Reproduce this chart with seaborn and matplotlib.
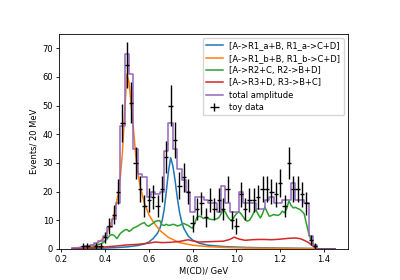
import numpy as np
import matplotlib
matplotlib.use("Agg")
import matplotlib.pyplot as plt
import seaborn as sns

# binning of the toy data: 60 bins of 20 MeV starting at 0.25 GeV
bin_lo = 0.25
bin_width = 0.02

toy_counts = [0, 0, 1, 1, 0, 1, 1, 4, 8, 12,
              20, 44, 64, 51, 30, 21, 15, 17, 18, 15,
              21, 32, 50, 38, 22, 25, 20, 9, 14, 16,
              11, 17, 14, 17, 14, 21, 10, 8, 19, 14,
              17, 17, 18, 21, 21, 20, 19, 23, 15, 30,
              21, 21, 19, 16, 3, 1, 0, 0, 0, 0]

total_amp = [0.2, 0.4, 0.8, 1.1, 1.5, 2.0, 2.8, 4.5, 7.5, 10.5,
             16, 43, 68, 61, 35, 26, 25, 18, 20, 19,
             20, 34, 44, 35, 28, 24, 20, 13, 18, 18,
             17, 16, 16, 13, 22, 16, 13, 13, 20, 16,
             16, 16, 14, 14, 17, 18, 16, 16, 17, 17,
             23, 17, 17, 16, 4.4, 1.2, 0, 0, 0, 0]

r1a_x = [0.25, 0.35, 0.40, 0.45, 0.50, 0.55, 0.58, 0.60, 0.62, 0.64, 0.65, 0.66,
         0.67, 0.68, 0.69, 0.70, 0.71, 0.72, 0.73, 0.74, 0.75, 0.76, 0.78, 0.80,
         0.83, 0.87, 0.95, 1.05, 1.20, 1.36, 1.37, 1.45]
r1a_y = [0.1, 0.2, 0.3, 0.45, 0.7, 1.2, 1.7, 2.4, 3.6, 5.5, 7.0, 9.5,
         13.5, 20, 27, 31.8, 29, 24, 18, 13, 9.5, 7.2, 4.5, 3.1,
         2.0, 1.3, 0.8, 0.5, 0.3, 0.15, 0, 0]

r1b_x = [0.25, 0.28, 0.30, 0.33, 0.36, 0.38, 0.40, 0.42, 0.44, 0.46, 0.47, 0.48,
         0.49, 0.50, 0.51, 0.52, 0.53, 0.54, 0.55, 0.56, 0.58, 0.60, 0.62, 0.65,
         0.69, 0.74, 0.80, 0.87, 0.95, 1.05, 1.20, 1.35, 1.37, 1.45]
r1b_y = [0.2, 0.5, 0.7, 1.0, 1.9, 2.8, 4.5, 7.5, 11.5, 19, 25, 34,
         48, 61, 58, 50, 42, 33, 27, 22, 16, 12, 9.5, 6.5,
         4, 2.2, 1.3, 0.8, 0.5, 0.3, 0.2, 0.1, 0, 0]

r2_x = [0.25, 0.30, 0.33, 0.35, 0.37, 0.39, 0.41, 0.42, 0.43, 0.44, 0.455, 0.47,
        0.48, 0.49, 0.50, 0.51, 0.52, 0.53, 0.54, 0.55, 0.56, 0.57, 0.58, 0.59,
        0.60, 0.61, 0.62, 0.63, 0.64, 0.65, 0.66, 0.67, 0.68, 0.69, 0.70, 0.71,
        0.72, 0.73, 0.74, 0.75, 0.76, 0.77, 0.78, 0.79, 0.80, 0.81, 0.82, 0.83,
        0.84, 0.85, 0.86, 0.87, 0.88, 0.89, 0.90, 0.91, 0.92, 0.93, 0.94, 0.95,
        0.96, 0.97, 0.98, 0.99, 1.00, 1.01, 1.02, 1.03, 1.04, 1.05, 1.06, 1.07,
        1.08, 1.09, 1.10, 1.11, 1.12, 1.13, 1.14, 1.15, 1.16, 1.17, 1.18, 1.19,
        1.20, 1.21, 1.22, 1.23, 1.24, 1.25, 1.26, 1.27, 1.28, 1.29, 1.30, 1.31,
        1.32, 1.33, 1.34, 1.35, 1.36, 1.37, 1.45]
r2_y = [0, 0.1, 0.4, 0.9, 1.5, 2.1, 3.5, 4.5, 5.0, 4.8, 3.6, 5.4,
        6.0, 6.6, 6.8, 6.1, 6.6, 7.3, 7.6, 8.0, 8.5, 8.9, 9.2, 8.2,
        7.9, 8.5, 9.0, 9.6, 9.8, 9.9, 8.4, 8.2, 8.6, 8.2, 8.3, 8.6,
        8.4, 8.0, 8.2, 8.6, 8.9, 8.5, 8.2, 7.6, 7.2, 9.0, 11.0, 11.4,
        11.2, 10.6, 10.9, 10.6, 10.4, 10.2, 10.3, 10.5, 10.9, 12.2, 13.6, 12.8,
        11.3, 10.3, 9.8, 11.2, 12.2, 13.0, 12.4, 11.3, 10.2, 9.7, 10.0, 11.2,
        12.8, 13.6, 12.0, 10.8, 12.4, 14.6, 13.0, 11.4, 11.6, 12.0, 11.8, 11.7,
        12.1, 13.2, 12.6, 14.0, 16.8, 15.2, 14.3, 14.5, 14.1, 13.8, 13.1, 12.2,
        8.8, 5.6, 3.2, 1.8, 0.8, 0, 0]

r3_x = [0.25, 0.30, 0.35, 0.40, 0.45, 0.50, 0.55, 0.60, 0.63, 0.66, 0.70, 0.74,
        0.78, 0.80, 0.83, 0.87, 0.90, 0.94, 0.97, 0.99, 1.01, 1.04, 1.07, 1.10,
        1.13, 1.16, 1.20, 1.24, 1.27, 1.29, 1.31, 1.33, 1.35, 1.36, 1.37, 1.45]
r3_y = [0.05, 0.2, 0.4, 0.7, 1.0, 1.4, 1.6, 2.0, 2.4, 2.2, 2.3, 2.6,
        3.2, 2.8, 2.4, 2.5, 2.6, 2.7, 3.3, 4.1, 3.5, 3.0, 3.2, 3.3,
        3.3, 3.2, 3.4, 3.7, 3.8, 3.6, 3.0, 2.2, 1.0, 0.5, 0, 0]

labels = ["[A->R1_a+B, R1_a->C+D]", "[A->R1_b+B, R1_b->C+D]",
          "[A->R2+C, R2->B+D]", "[A->R3+D, R3->B+C]"]
colors = sns.color_palette("tab10")

plt.rcParams["font.size"] = 6
plt.rcParams["axes.linewidth"] = 0.6
plt.rcParams["xtick.major.size"] = 2.2
plt.rcParams["ytick.major.size"] = 2.2
plt.rcParams["xtick.major.width"] = 0.6
plt.rcParams["ytick.major.width"] = 0.6
plt.rcParams["xtick.major.pad"] = 2
plt.rcParams["ytick.major.pad"] = 2

fig, ax = plt.subplots(figsize=(4, 2.8), dpi=100)
fig.subplots_adjust(left=0.1475, right=0.87, top=0.879, bottom=0.111)

lw = 1.1
comps = [(r1a_x, r1a_y), (r1b_x, r1b_y), (r2_x, r2_y), (r3_x, r3_y)]
for i, (cx, cy) in enumerate(comps):
    sns.lineplot(x=cx, y=cy, ax=ax, color=colors[i], lw=lw, label=labels[i])

centers = bin_lo + bin_width * (np.arange(len(toy_counts)) + 0.5)
sns.lineplot(x=centers, y=total_amp, ax=ax, color=colors[4], lw=lw,
             drawstyle="steps-mid", label="total amplitude")
# extend the step to the outer bin edges
ax.plot([bin_lo, centers[0]], [total_amp[0]] * 2, color=colors[4], lw=lw)
ax.plot([centers[-1], bin_lo + bin_width * len(toy_counts)], [total_amp[-1]] * 2,
        color=colors[4], lw=lw)

counts = np.array(toy_counts, dtype=float)
ax.errorbar(centers, counts, yerr=np.sqrt(counts), xerr=bin_width / 2,
            fmt="none", ecolor="black", elinewidth=1.0, label="toy data")

ax.set_xlim(0.19, 1.51)
ax.set_ylim(0, 75)
ax.set_xticks([0.2, 0.4, 0.6, 0.8, 1.0, 1.2, 1.4])
ax.set_xlabel("M(CD)/ GeV", labelpad=2)
ax.set_ylabel("Events/ 20 MeV", labelpad=3)
ax.legend(loc="upper right", fontsize=6, handlelength=2.0, borderpad=0.4,
          labelspacing=0.4)

fig.savefig("out.png", dpi=100)
